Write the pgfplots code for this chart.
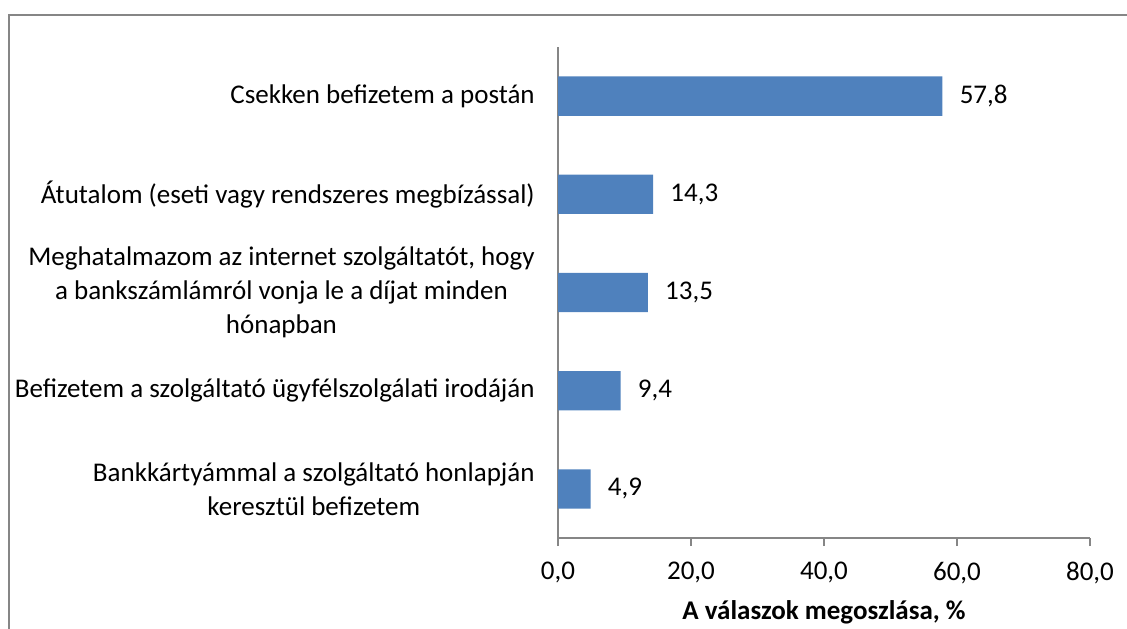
\documentclass[border=0pt]{standalone}
\usepackage{fontspec}
\setmainfont{Carlito}
\usepackage{pgfplots}
\pgfplotsset{compat=1.18}
\definecolor{barblue}{HTML}{4F81BD}
\definecolor{axgrey}{HTML}{868686}
\newcommand{\lblfont}{\fontsize{13.5pt}{17pt}\selectfont}
\begin{document}
\lblfont
\begin{tikzpicture}
\useasboundingbox (0,0) rectangle (563.5pt,314pt);
\draw[axgrey, line width=1pt] (4.25pt,-2pt) -- (4.25pt,306.25pt) -- (566pt,306.25pt);
\begin{axis}[
  at={(279pt,45pt)}, anchor=south west,
  scale only axis,
  width=266pt, height=245.5pt,
  xbar, bar width=0.4,
  xmin=0, xmax=80,
  ymin=0.5, ymax=5.5,
  y dir=reverse,
  axis x line*=bottom, axis y line*=left,
  axis line style={axgrey, line width=1pt},
  xtick={0,20,40,60,80},
  xtick style={axgrey, line width=1pt},
  tick align=outside,
  major tick length=4pt,
  ytick={1,2,3,4,5},
  ytick style={draw=none},
  yticklabels={{Csekken befizetem a postán},
    {Átutalom (eseti vagy rendszeres megbízással)},
    {Meghatalmazom az internet szolgáltatót, hogy\\a bankszámlámról vonja le a díjat minden\\hónapban},
    {Befizetem a szolgáltató ügyfélszolgálati irodáján},
    {Bankkártyámmal a szolgáltató honlapján\\keresztül befizetem}},
  yticklabel style={align=center, inner sep=0pt, anchor=east, xshift=-7.5pt, font=\lblfont},
  xticklabel style={inner sep=0pt, yshift=-8pt, font=\lblfont},
  /pgf/number format/assume math mode=true,
  /pgf/number format/.cd, use comma, fixed, fixed zerofill, precision=1,
  /pgfplots/.cd,
  xlabel={\bfseries A válaszok megoszlása, \%},
  xlabel style={font=\lblfont, at={(0.5,0)}, anchor=center, yshift=-37pt},
  nodes near coords,
  nodes near coords style={anchor=west, xshift=4pt, text=black, font=\lblfont},
  every node near coord/.append style={/pgf/number format/.cd, use comma, fixed, fixed zerofill, precision=1},
  clip=false,
]
\addplot[fill=barblue, draw=none] coordinates {(57.8,1) (14.3,2) (13.5,3) (9.4,4) (4.9,5)};
\end{axis}
\end{tikzpicture}
\end{document}
